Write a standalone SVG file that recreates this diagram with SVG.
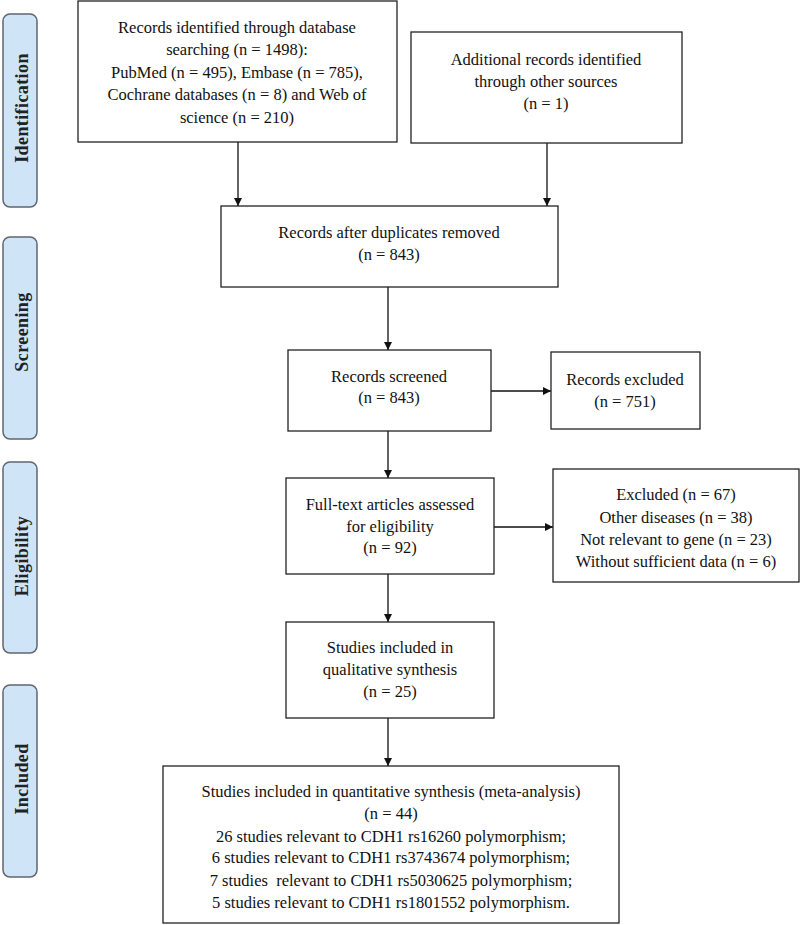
<svg xmlns="http://www.w3.org/2000/svg" width="800" height="925" viewBox="0 0 800 925">
<style>
.box{fill:#fff;stroke:#222;stroke-width:1.3}
.side{fill:#cfe5f7;stroke:#5f6670;stroke-width:1.5}
.t{font-family:"Liberation Serif","Times New Roman",serif;font-size:16.5px;fill:#111;text-anchor:middle}
.s{font-family:"Liberation Serif","Times New Roman",serif;font-size:18px;font-weight:bold;fill:#222;text-anchor:middle;letter-spacing:0.4px}
.c{stroke:#111;stroke-width:1.3;fill:none;marker-end:url(#ah)}
</style>
<defs>
<marker id="ah" viewBox="0 0 10 10" refX="10" refY="5" markerWidth="8" markerHeight="8" markerUnits="userSpaceOnUse" orient="auto">
<path d="M0,0 L10,5 L0,10 z" fill="#111"/>
</marker>
</defs>
<rect width="800" height="925" fill="#fff"/>

<g id="phase-identification">
<rect class="side" x="3" y="14" width="34" height="193" rx="7"/>
<text class="s" transform="translate(28,108) rotate(-90)">Identification</text>
</g>
<g id="phase-screening">
<rect class="side" x="3" y="237" width="34" height="202" rx="7"/>
<text class="s" transform="translate(28,332) rotate(-90)">Screening</text>
</g>
<g id="phase-eligibility">
<rect class="side" x="3" y="462" width="34" height="191" rx="7"/>
<text class="s" transform="translate(28,556) rotate(-90)">Eligibility</text>
</g>
<g id="phase-included">
<rect class="side" x="3" y="685" width="34" height="192" rx="7"/>
<text class="s" transform="translate(28,779) rotate(-90)">Included</text>
</g>

<g id="connectors">
<line class="c" x1="238" y1="142" x2="238" y2="206"/>
<line class="c" x1="547" y1="143" x2="547" y2="206"/>
<line class="c" x1="388" y1="287" x2="388" y2="350"/>
<line class="c" x1="491" y1="391" x2="551" y2="391"/>
<line class="c" x1="388" y1="431" x2="388" y2="478"/>
<line class="c" x1="494" y1="527" x2="553" y2="527"/>
<line class="c" x1="388" y1="574" x2="388" y2="622"/>
<line class="c" x1="388" y1="718" x2="388" y2="766"/>
</g>

<g id="n-db">
<rect class="box" x="78" y="1" width="319" height="141"/>
<text class="t" x="237" y="33">Records identified through database</text>
<text class="t" x="237" y="55">searching (n = 1498):</text>
<text class="t" x="237" y="78">PubMed (n = 495), Embase (n = 785),</text>
<text class="t" x="237" y="100">Cochrane databases (n = 8) and Web of</text>
<text class="t" x="237" y="123">science (n = 210)</text>
</g>
<g id="n-other">
<rect class="box" x="411" y="32" width="271" height="111"/>
<text class="t" x="546" y="65">Additional records identified</text>
<text class="t" x="546" y="87">through other sources</text>
<text class="t" x="546" y="109">(n = 1)</text>
</g>
<g id="n-dup">
<rect class="box" x="221" y="206" width="337" height="81"/>
<text class="t" x="389" y="238">Records after duplicates removed</text>
<text class="t" x="389" y="260">(n = 843)</text>
</g>
<g id="n-screened">
<rect class="box" x="288" y="350" width="203" height="81"/>
<text class="t" x="389" y="382">Records screened</text>
<text class="t" x="389" y="403">(n = 843)</text>
</g>
<g id="n-excluded">
<rect class="box" x="551" y="352" width="149" height="77"/>
<text class="t" x="625" y="385">Records excluded</text>
<text class="t" x="625" y="407">(n = 751)</text>
</g>
<g id="n-fulltext">
<rect class="box" x="286" y="478" width="208" height="96"/>
<text class="t" x="390" y="510">Full-text articles assessed</text>
<text class="t" x="390" y="532">for eligibility</text>
<text class="t" x="390" y="553">(n = 92)</text>
</g>
<g id="n-excl2">
<rect class="box" x="553" y="469" width="246" height="113"/>
<text class="t" x="676" y="500">Excluded (n = 67)</text>
<text class="t" x="676" y="523">Other diseases (n = 38)</text>
<text class="t" x="676" y="545">Not relevant to gene (n = 23)</text>
<text class="t" x="676" y="567">Without sufficient data (n = 6)</text>
</g>
<g id="n-qual">
<rect class="box" x="286" y="622" width="208" height="96"/>
<text class="t" x="390" y="653">Studies included in</text>
<text class="t" x="390" y="675">qualitative synthesis</text>
<text class="t" x="390" y="697">(n = 25)</text>
</g>
<g id="n-quant">
<rect class="box" x="163" y="766" width="456" height="157"/>
<text class="t" x="391" y="797">Studies included in quantitative synthesis (meta-analysis)</text>
<text class="t" x="391" y="819">(n = 44)</text>
<text class="t" x="391" y="842">26 studies relevant to CDH1 rs16260 polymorphism;</text>
<text class="t" x="391" y="863">6 studies relevant to CDH1 rs3743674 polymorphism;</text>
<text class="t" x="391" y="886" xml:space="preserve">7 studies  relevant to CDH1 rs5030625 polymorphism;</text>
<text class="t" x="391" y="908">5 studies relevant to CDH1 rs1801552 polymorphism.</text>
</g>
</svg>
